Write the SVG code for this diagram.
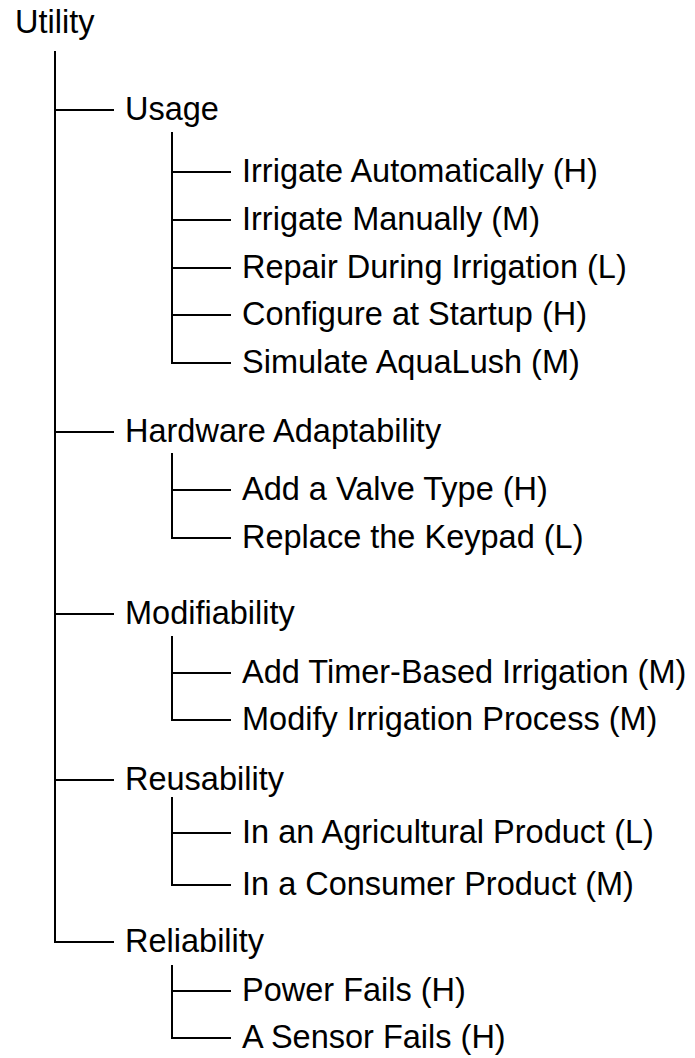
<svg xmlns="http://www.w3.org/2000/svg" width="695" height="1058" viewBox="0 0 695 1058">
<style>
text{font-family:"Liberation Sans",Arial,sans-serif;font-size:32.5px;fill:#000}
.c line{stroke:#000;stroke-width:2;fill:none}
</style>
<rect width="695" height="1058" fill="#fff"/>
<g class="c" id="connectors">
<line x1="55" y1="51" x2="55" y2="943"/>
<line x1="54" y1="110" x2="114" y2="110"/>
<line x1="54" y1="432" x2="114" y2="432"/>
<line x1="54" y1="614" x2="114" y2="614"/>
<line x1="54" y1="780" x2="114" y2="780"/>
<line x1="54" y1="942" x2="114" y2="942"/>
<line x1="172" y1="132" x2="172" y2="364"/>
<line x1="171" y1="172" x2="231" y2="172"/>
<line x1="171" y1="220" x2="231" y2="220"/>
<line x1="171" y1="268" x2="231" y2="268"/>
<line x1="171" y1="315" x2="231" y2="315"/>
<line x1="171" y1="363" x2="231" y2="363"/>
<line x1="172" y1="453" x2="172" y2="539"/>
<line x1="171" y1="490" x2="231" y2="490"/>
<line x1="171" y1="538" x2="231" y2="538"/>
<line x1="172" y1="636" x2="172" y2="721"/>
<line x1="171" y1="673" x2="231" y2="673"/>
<line x1="171" y1="720" x2="231" y2="720"/>
<line x1="172" y1="797" x2="172" y2="886"/>
<line x1="171" y1="833" x2="231" y2="833"/>
<line x1="171" y1="885" x2="231" y2="885"/>
<line x1="172" y1="965" x2="172" y2="1039"/>
<line x1="171" y1="991" x2="231" y2="991"/>
<line x1="171" y1="1038" x2="231" y2="1038"/>
</g>
<g id="n-utility"><text x="15" y="33">Utility</text></g>
<g id="n-usage"><text x="125" y="120">Usage</text></g>
<g id="n-u1"><text x="242" y="182">Irrigate Automatically (H)</text></g>
<g id="n-u2"><text x="242" y="230">Irrigate Manually (M)</text></g>
<g id="n-u3"><text x="242" y="278">Repair During Irrigation (L)</text></g>
<g id="n-u4"><text x="242" y="325">Configure at Startup (H)</text></g>
<g id="n-u5"><text x="242" y="373">Simulate AquaLush (M)</text></g>
<g id="n-hw"><text x="125" y="442">Hardware Adaptability</text></g>
<g id="n-h1"><text x="242" y="500">Add a Valve Type (H)</text></g>
<g id="n-h2"><text x="242" y="548">Replace the Keypad (L)</text></g>
<g id="n-mod"><text x="125" y="624">Modifiability</text></g>
<g id="n-m1"><text x="242" y="683">Add Timer-Based Irrigation (M)</text></g>
<g id="n-m2"><text x="242" y="730">Modify Irrigation Process (M)</text></g>
<g id="n-reu"><text x="125" y="790">Reusability</text></g>
<g id="n-r1"><text x="242" y="843">In an Agricultural Product (L)</text></g>
<g id="n-r2"><text x="242" y="895">In a Consumer Product (M)</text></g>
<g id="n-rel"><text x="125" y="952">Reliability</text></g>
<g id="n-l1"><text x="242" y="1001">Power Fails (H)</text></g>
<g id="n-l2"><text x="242" y="1048">A Sensor Fails (H)</text></g>
</svg>
